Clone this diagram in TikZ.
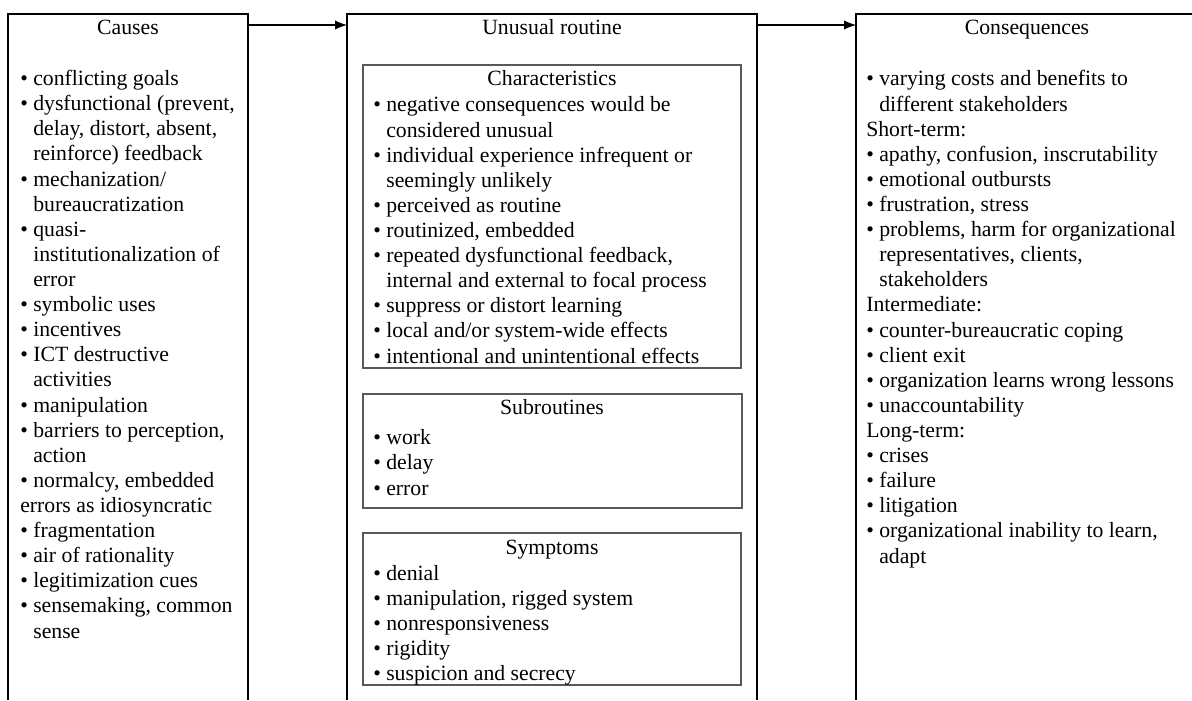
\documentclass[tikz,border=0pt]{standalone}
\usepackage{fontspec}
\setmainfont{Liberation Serif}
\usetikzlibrary{arrows.meta}

\newcommand{\bi}{\textbullet\ }
\newcommand{\hi}{\phantom{\textbullet\ }}

\tikzset{
  outerbox/.style={draw=black, line width=0.8pt},
  innerbox/.style={draw=black!65, line width=1.1pt},
  listtext/.style={anchor=base west, align=left, inner sep=0pt, font=\fontsize{16.3}{18.83}\selectfont},
  headtext/.style={anchor=base, inner sep=0pt, font=\fontsize{16.3}{18.83}\selectfont},
  flow/.style={-{Latex[length=9pt,width=7pt]}, line width=0.8pt}
}

\begin{document}
\begin{tikzpicture}[x=0.75pt,y=-0.75pt]

  \useasboundingbox (0,0) rectangle (1192,700);

  \coordinate (A0) at (8,700);
  \coordinate (A1) at (8,14);
  \coordinate (A2) at (248,14);
  \coordinate (A3) at (248,700);
  \coordinate (B0) at (347,700);
  \coordinate (B1) at (347,14);
  \coordinate (B2) at (757,14);
  \coordinate (B3) at (757,700);
  \coordinate (D0) at (856,700);
  \coordinate (D1) at (856,14);
  \coordinate (D2) at (1198,14);
  \coordinate (D3) at (1198,700);

  % Draw columns
  \draw [outerbox] (A0) -- (A1) -- (A2) -- (A3);
  \draw [outerbox] (B0) -- (B1) -- (B2) -- (B3);
  \draw [outerbox] (D0) -- (D1) -- (D2) -- (D3);

  % Draw arrows
  \coordinate (AB0) at (248,25);
  \coordinate (AB1) at (347,25);
  \coordinate (BD0) at (757,25);
  \coordinate (BD1) at (856,25);
  \draw [flow] (AB0) -- (AB1);
  \draw [flow] (BD0) -- (BD1);

  % Draw inner boxes
  \draw [innerbox] (363,65) rectangle (741,368);
  \draw [innerbox] (363,394) rectangle (742,508);
  \draw [innerbox] (363,533) rectangle (741,685);

  % Headers
  \node [headtext] (causes) at (128,34) {Causes};
  \node [headtext] (routine) at (552,34) {Unusual routine};
  \node [headtext] (conseq) at (1027,34) {Consequences};
  \node [headtext] (charact) at (552,85) {Characteristics};
  \node [headtext] (subrout) at (552,414) {Subroutines};
  \node [headtext] (symptoms) at (552,554) {Symptoms};

  % Causes (placed by last baseline)
  \node [listtext] (causeslist) at (20,638) {%
    \bi conflicting goals\\
    \bi dysfunctional (prevent,\\
    \hi delay, distort, absent,\\
    \hi reinforce) feedback\\
    \bi mechanization/\\
    \hi bureaucratization\\
    \bi quasi-\\
    \hi institutionalization of\\
    \hi error\\
    \bi symbolic uses\\
    \bi incentives\\
    \bi ICT destructive\\
    \hi activities\\
    \bi manipulation\\
    \bi barriers to perception,\\
    \hi action\\
    \bi normalcy, embedded\\
    errors as idiosyncratic\\
    \bi fragmentation\\
    \bi air of rationality\\
    \bi legitimization cues\\
    \bi sensemaking, common\\
    \hi sense};

  % Characteristics
  \node [listtext] (charlist) at (373,363) {%
    \bi negative consequences would be\\
    \hi considered unusual\\
    \bi individual experience infrequent or\\
    \hi seemingly unlikely\\
    \bi perceived as routine\\
    \bi routinized, embedded\\
    \bi repeated dysfunctional feedback,\\
    \hi internal and external to focal process\\
    \bi suppress or distort learning\\
    \bi local and/or system-wide effects\\
    \bi intentional and unintentional effects};

  % Subroutines
  \node [listtext] (sublist) at (373,495) {%
    \bi work\\
    \bi delay\\
    \bi error};

  % Symptoms
  \node [listtext] (symlist) at (373,680.5) {%
    \bi denial\\
    \bi manipulation, rigged system\\
    \bi nonresponsiveness\\
    \bi rigidity\\
    \bi suspicion and secrecy};

  % Consequences
  \node [listtext] (conslist) at (866,563) {%
    \bi varying costs and benefits to\\
    \hi different stakeholders\\
    Short-term:\\
    \bi apathy, confusion, inscrutability\\
    \bi emotional outbursts\\
    \bi frustration, stress\\
    \bi problems, harm for organizational\\
    \hi representatives, clients,\\
    \hi stakeholders\\
    Intermediate:\\
    \bi counter-bureaucratic coping\\
    \bi client exit\\
    \bi organization learns wrong lessons\\
    \bi unaccountability\\
    Long-term:\\
    \bi crises\\
    \bi failure\\
    \bi litigation\\
    \bi organizational inability to learn,\\
    \hi adapt};

\end{tikzpicture}
\end{document}
